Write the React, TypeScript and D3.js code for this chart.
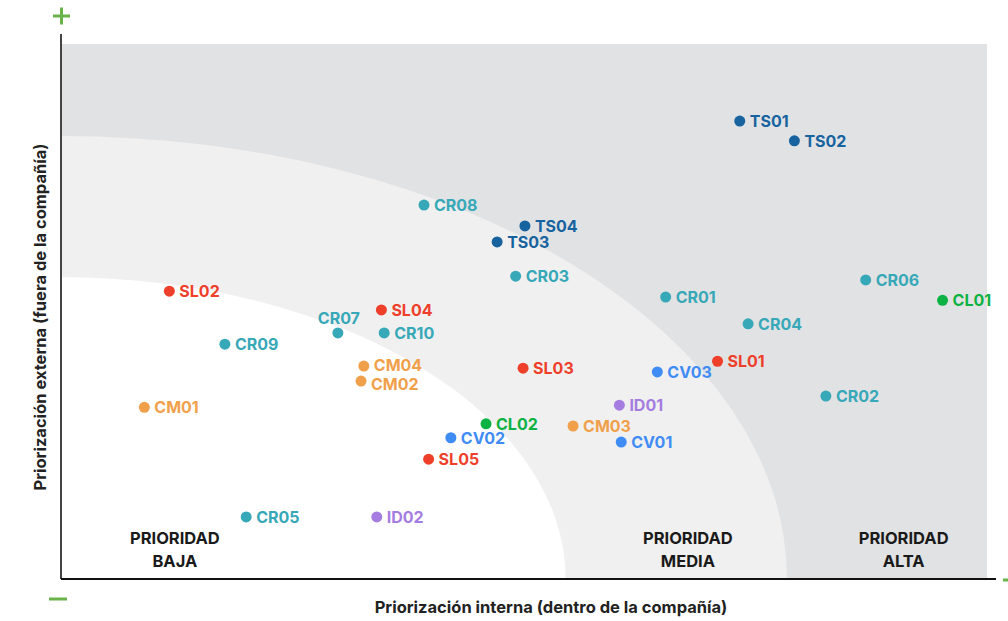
import React from "react";
import * as d3 from "d3";

const codes = ["TS01","TS02","CR08","TS04","TS03","CR03","CR06","CL01","SL02","CR01","SL04","CR07","CR10","CR04","CR09","SL01","CM04","SL03","CV03","CM02","CR02","CM01","ID01","CL02","CM03","CV02","CV01","SL05","CR05","ID02"];
const internal = [73.3,79.2,39.2,50.1,47.1,49.1,86.9,95.2,11.7,65.3,34.6,29.9,34.9,74.2,17.7,70.9,32.7,49.9,64.4,32.4,82.6,9.0,60.3,45.9,55.3,42.1,60.5,39.7,20.0,34.1];
const external = [85.6,81.9,69.9,66.0,63.0,56.6,55.9,52.1,53.8,52.7,50.3,46.0,46.0,47.7,43.9,40.7,39.8,39.4,38.7,37.0,34.2,32.1,32.5,29.0,28.6,26.4,25.6,22.4,11.6,11.6];
const groups = ["TS","CR","SL","CM","CV","ID","CL"];
const groupColors = ["#17639f","#37a8b8","#ee3f2b","#f0a04a","#3f8cf4","#a57de0","#0cb242"];
const zoneNames = ["PRIORIDAD BAJA","PRIORIDAD MEDIA","PRIORIDAD ALTA"];
// zone boundaries (quarter ellipses from origin): [internal radius, external radius]
const zoneBoundX = [54.5, 78.4];
const zoneBoundY = [56.4, 82.8];
const zoneLabelX = [12.3, 67.7, 91.0];

export default function App() {
  const W = 1008, H = 621;
  const left = 61, right = 987, top = 44, bottom = 579;
  const x = d3.scaleLinear().domain([0, 100]).range([left, right]);
  const y = d3.scaleLinear().domain([0, 100]).range([bottom, top]);
  const color = d3.scaleOrdinal<string, string>().domain(groups).range(groupColors);

  const ell = (i: number) => {
    const rx = x(zoneBoundX[i]) - x(0);
    const ry = y(0) - y(zoneBoundY[i]);
    return `M${left},${bottom} L${left + rx},${bottom} A${rx},${ry} 0 0 0 ${left},${bottom - ry} Z`;
  };

  const green = "#6ab24a";
  const font = "Inter, 'Noto Sans', sans-serif";
  const labelDy: Record<string, number> = { CM02: 3, CM04: -1 };

  return (
    <svg width={W} height={H} style={{ position: "absolute", left: 0, top: 0 }} fontFamily={font}>
      <rect x={0} y={0} width={W} height={H} fill="#fff" />
      <rect x={left} y={top} width={right - left} height={bottom - top} fill="#e1e2e4" />
      <path d={ell(1)} fill="#f0f0f0" />
      <path d={ell(0)} fill="#ffffff" />
      {/* axes */}
      <line x1={left} x2={left} y1={34} y2={bottom} stroke="#444" strokeWidth={2} />
      <line x1={left} x2={996} y1={bottom} y2={bottom} stroke="#111" strokeWidth={2} />
      {/* plus / minus markers */}
      <line x1={53} x2={70} y1={16} y2={16} stroke={green} strokeWidth={3} />
      <line x1={61.5} x2={61.5} y1={7.5} y2={24.5} stroke={green} strokeWidth={3} />
      <line x1={49} x2={67} y1={599} y2={599} stroke={green} strokeWidth={3} />
      <line x1={1003} x2={1010} y1={580} y2={580} stroke={green} strokeWidth={3} />
      {/* zone labels */}
      {zoneNames.map((n, i) => {
        const parts = n.split(" ");
        return (
          <text key={n} x={x(zoneLabelX[i])} y={544} textAnchor="middle" fontSize={16.5} fontWeight={700} fill="#1a1a1a">
            <tspan x={x(zoneLabelX[i])} dy={0}>{parts[0]}</tspan>
            <tspan x={x(zoneLabelX[i])} dy={23}>{parts[1]}</tspan>
          </text>
        );
      })}
      {/* points */}
      {codes.map((c, i) => {
        const cx = x(internal[i]);
        const cy = y(external[i]);
        const col = color(c.slice(0, 2));
        const above = c === "CR07";
        return (
          <g key={c}>
            <circle cx={cx} cy={cy} r={5.5} fill={col} />
            {above ? (
              <text x={cx + 1} y={cy - 9} textAnchor="middle" fontSize={16} fontWeight={700} fill={col}>{c}</text>
            ) : (
              <text x={cx + 10} y={cy + 6 + (labelDy[c] || 0)} fontSize={16} fontWeight={700} fill={col}>{c}</text>
            )}
          </g>
        );
      })}
      {/* axis titles */}
      <text x={551} y={613} textAnchor="middle" fontSize={16.5} fontWeight={700} fill="#222">
        Priorización interna (dentro de la compañía)
      </text>
      <text transform="translate(46,317) rotate(-90)" textAnchor="middle" fontSize={16.5} fontWeight={700} fill="#222">
        Priorización externa (fuera de la compañía)
      </text>
    </svg>
  );
}
